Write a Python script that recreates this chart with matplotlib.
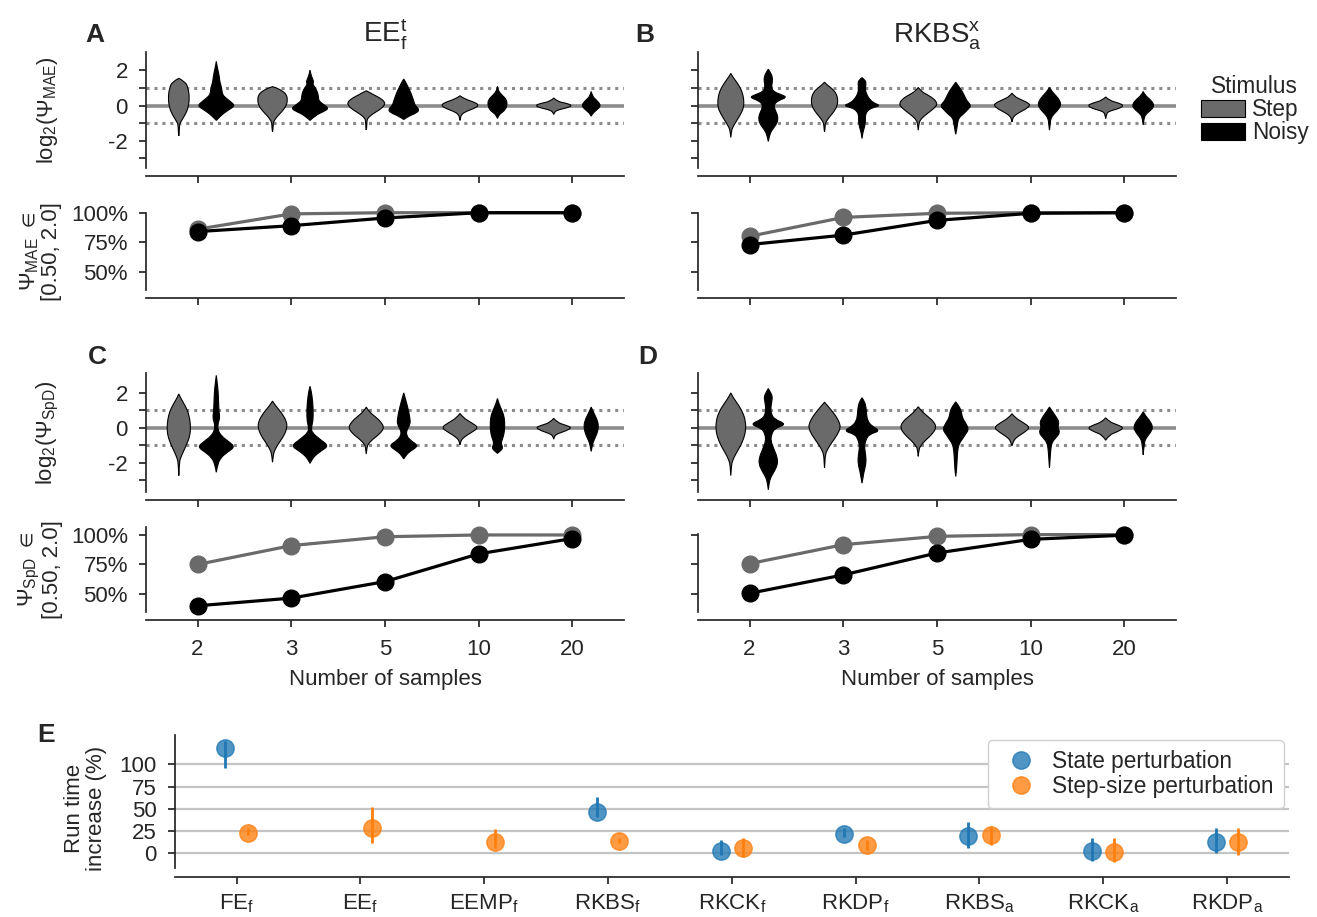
import numpy as np
import matplotlib
matplotlib.use("Agg")
import matplotlib.pyplot as plt
from matplotlib.patches import Patch, PathPatch
from matplotlib.path import Path
from matplotlib.lines import Line2D

plt.rcParams.update({
    "font.family": ["Liberation Sans", "DejaVu Sans"],
    "font.size": 16,
    "mathtext.fontset": "custom",
    "mathtext.rm": "Liberation Sans",
    "mathtext.it": "Liberation Sans:italic",
    "mathtext.bf": "Liberation Sans:bold",
    "mathtext.fallback": "stixsans",
    "axes.edgecolor": "#262626",
    "axes.linewidth": 1.25,
    "text.color": "#262626",
    "axes.labelcolor": "#262626",
    "xtick.color": "#262626",
    "ytick.color": "#262626",
    "xtick.major.size": 5,
    "ytick.major.size": 5,
    "xtick.major.width": 1.25,
    "ytick.major.width": 1.25,
    "xtick.major.pad": 8,
    "ytick.major.pad": 8,
})

# ---------------- data ----------------
N_SAMPLES = ["2", "3", "5", "10", "20"]
STIMULI = ["Step", "Noisy"]

# Violin outlines: log2 values (y) and relative widths (w, 1 = full slot)
A_STEP_Y = [[1.55, 1.36, 0.99, 0.43, -0.13, -0.5, -0.88, -1.07, -1.6, -1.72],
            [1.08, 0.99, 0.8, 0.62, 0.34, 0.0, -0.32, -0.6, -0.88, -1.07, -1.4, -1.48],
            [0.84, 0.8, 0.62, 0.43, 0.2, 0.0, -0.22, -0.5, -0.73, -0.88, -1.3, -1.38],
            [0.56, 0.52, 0.34, 0.15, 0.0, -0.17, -0.32, -0.5, -0.75, -0.84],
            [0.43, 0.24, 0.13, 0.0, -0.13, -0.26, -0.4, -0.5]]
A_STEP_W = [[0, .35, .50, .57, .50, .35, .13, .035, .02, 0],
            [0, .26, .57, .74, .80, .74, .52, .26, .07, .035, .02, 0],
            [0, .09, .39, .74, 1.0, .96, .74, .30, .07, .035, .02, 0],
            [0, .04, .35, .87, 1.0, .74, .35, .07, .02, 0],
            [0, .17, .70, 1.0, .70, .17, .03, 0]]
A_NOISY_Y = [[2.52, 2.3, 2.02, 1.64, 1.36, 1.18, 0.9, 0.62, 0.43, 0.24, 0.0, -0.22, -0.41, -0.6, -0.84],
             [2.02, 1.8, 1.55, 1.36, 1.2, 1.0, 0.7, 0.45, 0.25, 0.05, -0.17, -0.35, -0.55, -0.84],
             [1.51, 1.36, 1.08, 0.8, 0.52, 0.24, 0.0, -0.22, -0.41, -0.6, -0.79],
             [1.08, 1.0, 0.8, 0.58, 0.34, 0.06, -0.22, -0.41, -0.54, -0.73],
             [0.8, 0.52, 0.34, 0.0, -0.28, -0.45, -0.6]]
A_NOISY_W = [[0, .03, .09, .16, .19, .24, .30, .33, .52, .74, 1.0, .70, .43, .22, 0],
             [0, .04, .12, .20, .14, .30, .42, .45, .48, .75, 1.0, .70, .30, 0],
             [0, .09, .22, .35, .45, .54, .61, .83, .70, .26, 0],
             [0, .02, .07, .26, .48, .52, .43, .22, .07, 0],
             [0, .07, .26, .54, .26, .07, 0]]

B_STEP_Y = [[1.83, 1.64, 1.36, 0.99, 0.62, 0.24, -0.13, -0.5, -0.88, -1.25, -1.48, -1.81],
            [1.33, 1.18, 0.9, 0.62, 0.34, 0.0, -0.32, -0.6, -0.88, -1.07, -1.4, -1.48],
            [1.03, 0.8, 0.62, 0.39, 0.15, -0.04, -0.32, -0.6, -0.84, -1.07, -1.4],
            [0.71, 0.52, 0.34, 0.15, 0.0, -0.22, -0.41, -0.6, -0.8, -0.92],
            [0.49, 0.3, 0.13, 0.0, -0.17, -0.32, -0.47, -0.73]]
B_STEP_W = [[0, .10, .30, .52, .65, .70, .68, .52, .30, .09, .03, 0],
            [0, .13, .48, .65, .71, .68, .52, .30, .10, .035, .02, 0],
            [0, .17, .48, .83, 1.0, .96, .65, .30, .09, .03, 0],
            [0, .13, .48, .87, .97, .70, .35, .10, .02, 0],
            [0, .17, .74, .97, .70, .17, .04, 0]]
B_NOISY_Y = [[2.07, 1.93, 1.64, 1.36, 1.08, 0.8, 0.62, 0.47, 0.28, 0.06, -0.22, -0.5, -0.79, -1.07, -1.36, -1.64, -2.04],
             [1.59, 1.46, 1.27, 0.99, 0.71, 0.43, 0.15, 0.0, -0.13, -0.32, -0.6, -0.88, -1.25, -1.53, -1.87],
             [1.33, 1.08, 0.8, 0.52, 0.24, 0.0, -0.22, -0.5, -0.69, -0.97, -1.25, -1.63],
             [1.03, 0.8, 0.52, 0.24, 0.0, -0.28, -0.5, -0.73, -1.07, -1.4],
             [0.8, 0.58, 0.34, 0.0, -0.28, -0.5, -0.73, -1.1]]
B_NOISY_W = [[0, .09, .22, .22, .17, .26, .70, 1.0, .52, .30, .35, .48, .52, .43, .22, .07, 0],
             [0, .16, .22, .17, .22, .35, .61, 1.0, .52, .26, .17, .19, .13, .04, 0],
             [0, .17, .35, .48, .61, .83, .65, .39, .17, .10, .07, 0],
             [0, .13, .39, .57, .61, .43, .22, .07, .035, 0],
             [0, .10, .39, .61, .39, .13, .04, 0]]

C_STEP_Y = [[1.94, 1.72, 1.34, 0.96, 0.49, 0.02, -0.45, -0.92, -1.4, -1.77, -2.06, -2.72],
            [1.53, 1.25, 0.87, 0.4, 0.02, -0.45, -0.92, -1.3, -1.58, -1.96],
            [1.19, 0.96, 0.68, 0.4, 0.02, -0.36, -0.64, -0.92, -1.11, -1.49],
            [0.83, 0.58, 0.3, 0.02, -0.26, -0.55, -0.8, -0.96],
            [0.55, 0.32, 0.15, 0.02, -0.17, -0.34, -0.5, -0.64]]
C_STEP_W = [[0, .09, .30, .48, .59, .63, .59, .43, .22, .07, .03, 0],
            [0, .17, .48, .74, .78, .61, .30, .10, .035, 0],
            [0, .13, .43, .74, .97, .70, .35, .10, .035, 0],
            [0, .17, .61, 1.0, .61, .17, .02, 0],
            [0, .17, .65, .97, .65, .17, .02, 0]]
C_NOISY_Y = [[3.0, 2.66, 2.09, 1.53, 0.96, 0.58, 0.3, -0.08, -0.45, -0.77, -1.08, -1.4, -1.68, -2.06, -2.53],
             [2.38, 2.09, 1.53, 0.96, 0.4, 0.02, -0.26, -0.64, -1.02, -1.3, -1.58, -1.87, -2.02],
             [2.0, 1.62, 1.15, 0.58, 0.21, -0.08, -0.45, -0.77, -1.02, -1.3, -1.53, -1.77],
             [1.68, 1.34, 0.96, 0.58, 0.11, -0.36, -0.64, -0.89, -1.15, -1.34, -1.45],
             [1.19, 0.87, 0.4, 0.02, -0.36, -0.74, -1.02, -1.34]]
C_NOISY_W = [[0, .04, .10, .12, .14, .19, .10, .07, .26, .65, 1.0, .57, .26, .07, 0],
             [0, .07, .14, .17, .16, .07, .10, .52, 1.0, .61, .26, .07, 0],
             [0, .10, .22, .33, .35, .17, .13, .43, .78, .39, .13, 0],
             [0, .09, .26, .37, .39, .35, .26, .19, .30, .13, 0],
             [0, .13, .35, .39, .30, .13, .05, 0]]

D_STEP_Y = [[2.0, 1.72, 1.34, 0.87, 0.4, -0.08, -0.55, -1.02, -1.49, -1.87, -2.15, -2.72],
            [1.47, 1.15, 0.68, 0.3, 0.02, -0.36, -0.83, -1.21, -1.53, -2.0, -2.28],
            [1.21, 0.96, 0.68, 0.36, 0.02, -0.36, -0.74, -1.02, -1.21, -1.62],
            [0.81, 0.58, 0.3, 0.02, -0.26, -0.55, -0.77, -1.02],
            [0.58, 0.36, 0.17, 0.0, -0.21, -0.4, -0.7]]
D_STEP_W = [[0, .13, .39, .65, .78, .80, .71, .52, .26, .09, .03, 0],
            [0, .26, .61, .80, .85, .70, .39, .16, .04, .02, 0],
            [0, .17, .48, .83, .97, .74, .35, .13, .035, 0],
            [0, .17, .61, .97, .65, .22, .07, 0],
            [0, .17, .65, .97, .65, .17, 0]]
D_NOISY_Y = [[2.25, 2.06, 1.81, 1.53, 1.15, 0.77, 0.49, 0.21, -0.02, -0.36, -0.74, -1.21, -1.68, -2.06, -2.43, -2.81, -3.15, -3.53],
             [1.72, 1.53, 1.15, 0.77, 0.4, 0.11, -0.17, -0.36, -0.64, -1.02, -1.4, -1.77, -2.15, -2.53, -2.91, -3.15],
             [1.49, 1.25, 0.96, 0.58, 0.3, -0.08, -0.36, -0.64, -0.92, -1.3, -1.87, -2.43, -2.77],
             [1.19, 0.92, 0.58, 0.3, 0.02, -0.26, -0.55, -0.83, -1.21, -1.68, -2.28],
             [0.92, 0.68, 0.36, 0.02, -0.26, -0.55, -0.83, -1.53]]
D_NOISY_W = [[0, .10, .22, .19, .13, .16, .35, .97, .35, .17, .13, .30, .48, .50, .35, .13, .04, 0],
             [0, .13, .22, .24, .30, .52, .97, .39, .22, .13, .17, .22, .19, .10, .04, 0],
             [0, .17, .30, .35, .52, .70, .52, .35, .17, .10, .07, .04, 0],
             [0, .17, .39, .52, .43, .57, .35, .13, .07, .04, 0],
             [0, .13, .39, .52, .39, .17, .05, 0]]

# Fraction of samples with Psi in [0.5, 2.0]
A_STEP_FRAC = [0.86, 0.99, 1.0, 1.0, 1.0]
A_NOISY_FRAC = [0.84, 0.89, 0.955, 1.0, 1.0]
B_STEP_FRAC = [0.80, 0.96, 0.995, 1.0, 1.0]
B_NOISY_FRAC = [0.73, 0.81, 0.935, 0.995, 1.0]
C_STEP_FRAC = [0.75, 0.91, 0.985, 1.0, 1.0]
C_NOISY_FRAC = [0.40, 0.465, 0.605, 0.84, 0.97]
D_STEP_FRAC = [0.755, 0.915, 0.985, 1.0, 1.0]
D_NOISY_FRAC = [0.505, 0.66, 0.845, 0.96, 0.995]

# Panel E: run time increase (%)
METHODS = [r"FE$_\mathrm{f}$", r"EE$_\mathrm{f}$", r"EEMP$_\mathrm{f}$", r"RKBS$_\mathrm{f}$",
           r"RKCK$_\mathrm{f}$", r"RKDP$_\mathrm{f}$", r"RKBS$_\mathrm{a}$", r"RKCK$_\mathrm{a}$",
           r"RKDP$_\mathrm{a}$"]
STATE_MEAN = [118.0, np.nan, np.nan, 46.7, 3.0, 21.7, 19.4, 3.0, 13.0]
STATE_LO = [95.5, np.nan, np.nan, 41.0, -2.0, 18.0, 5.6, -8.3, 0.0]
STATE_HI = [126.5, np.nan, np.nan, 63.6, 15.0, 28.0, 35.5, 17.5, 28.0]
STEPSIZE_MEAN = [23.1, 28.0, 13.0, 14.0, 5.6, 9.3, 20.6, 1.9, 13.0]
STEPSIZE_LO = [20.5, 12.0, 5.6, 11.2, -4.0, 4.0, 9.3, -9.4, -2.0]
STEPSIZE_HI = [28.0, 52.0, 27.0, 16.8, 17.0, 15.0, 30.7, 17.0, 28.8]

# ---------------- styling ----------------
STEP_COLOR = "#6a6a6a"
NOISY_COLOR = "#000000"
REF_COLOR = "#8c8c8c"
BLUE = "#1f77b4"
ORANGE = "#ff7f0e"

W, H = 1317, 917
fig = plt.figure(figsize=(W / 100, H / 100), dpi=100)


def add_ax(x0, y0, x1, y1):
    return fig.add_axes([x0 / W, 1 - y1 / H, (x1 - x0) / W, (y1 - y0) / H])


def style(ax):
    for s in ("top", "right"):
        ax.spines[s].set_visible(False)
    ax.spines["bottom"].set_position(("outward", 6))


def smooth_side(pts):
    """Quadratic Bezier through an open polyline (ends kept)."""
    verts, codes = [], []
    m = len(pts)
    if m == 2:
        return [pts[1]], [Path.LINETO]
    for k in range(1, m - 1):
        end = pts[m - 1] if k == m - 2 else (pts[k] + pts[k + 1]) / 2
        verts += [pts[k], end]
        codes += [Path.CURVE3, Path.CURVE3]
    return verts, codes


def violin_patch(c, y, w, color):
    y = np.asarray(y, float)
    hw = np.asarray(w, float) * 0.2
    right = np.column_stack([c + hw, y])
    left = np.column_stack([c - hw, y])[::-1]
    verts, codes = [right[0]], [Path.MOVETO]
    v, cd = smooth_side(right)
    verts += v; codes += cd
    v, cd = smooth_side(left)
    verts += v; codes += cd
    verts.append(right[0]); codes.append(Path.CLOSEPOLY)
    return PathPatch(Path(np.array(verts), codes), facecolor=color, edgecolor="black",
                     linewidth=0.8, zorder=3)


def violin_panel(ax, step_y, step_w, noisy_y, noisy_w, ylim, ylabel, show_ylabels):
    style(ax)
    ax.axhline(0, color=REF_COLOR, lw=2.6, zorder=1)
    for v in (-1, 1):
        ax.axhline(v, color=REF_COLOR, lw=2.2, ls=(0, (1, 1.6)), zorder=1)
    for ys, ws, off, col in ((step_y, step_w, -0.2, STEP_COLOR), (noisy_y, noisy_w, 0.2, NOISY_COLOR)):
        for i, (y, w) in enumerate(zip(ys, ws)):
            ax.add_patch(violin_patch(i + off, y, w, col))
    ax.set_xlim(-0.55, 4.55)
    ax.set_ylim(*ylim)
    ax.set_xticks(range(len(N_SAMPLES)))
    ax.set_xticklabels([])
    ax.set_yticks([-3, -2, -1, 0, 1, 2])
    if show_ylabels:
        ax.set_yticklabels(["", "-2", "", "0", "", "2"])
        ax.set_ylabel(ylabel, va="center", ha="center")
        ax.yaxis.set_label_coords(-0.206, 0.5)
    else:
        ax.set_yticklabels([])


def line_panel(ax, step, noisy, ylim, ylabel, show_ylabels, show_xlabels):
    style(ax)
    x = np.arange(len(N_SAMPLES))
    ax.plot(x, step, "-o", color=STEP_COLOR, lw=2.3, ms=12, clip_on=False, zorder=3)
    ax.plot(x, noisy, "-o", color=NOISY_COLOR, lw=2.3, ms=12, clip_on=False, zorder=4)
    ax.set_xlim(-0.55, 4.55)
    ax.set_ylim(*ylim)
    ax.set_yticks([0.5, 0.75, 1.0])
    ax.set_xticks(x)
    if show_xlabels:
        ax.set_xticklabels(N_SAMPLES)
        ax.tick_params(axis="x", pad=9)
        ax.set_xlabel("Number of samples", labelpad=6)
    else:
        ax.set_xticklabels([])
    if show_ylabels:
        ax.set_yticklabels(["50%", "75%", "100%"])
        ax.set_ylabel(ylabel, va="center", ha="center", linespacing=1.0)
        ax.yaxis.set_label_coords(-0.222, 0.5)
    else:
        ax.set_yticklabels([])


vA = add_ax(146, 52, 624, 168)
lA = add_ax(146, 212.7, 624, 290)
vB = add_ax(698, 52, 1176, 168)
lB = add_ax(698, 212.7, 1176, 290)
vC = add_ax(146, 373.3, 624, 491.7)
lC = add_ax(146, 526.7, 624, 611.7)
vD = add_ax(698, 373.3, 1176, 491.7)
lD = add_ax(698, 534, 1176, 611.7)

lab_mae = "log$_2$(Ψ$_\\mathrm{MAE}$)"
lab_spd = "log$_2$(Ψ$_\\mathrm{SpD}$)"
frac_mae = "Ψ$_\\mathrm{MAE}$ $\\in$\n[0.50, 2.0]"
frac_spd = "Ψ$_\\mathrm{SpD}$ $\\in$\n[0.50, 2.0]"

violin_panel(vA, A_STEP_Y, A_STEP_W, A_NOISY_Y, A_NOISY_W, (-3.55, 3.05), lab_mae, True)
violin_panel(vB, B_STEP_Y, B_STEP_W, B_NOISY_Y, B_NOISY_W, (-3.55, 3.05), lab_mae, False)
violin_panel(vC, C_STEP_Y, C_STEP_W, C_NOISY_Y, C_NOISY_W, (-3.64, 3.12), lab_spd, True)
violin_panel(vD, D_STEP_Y, D_STEP_W, D_NOISY_Y, D_NOISY_W, (-3.64, 3.12), lab_spd, False)

line_panel(lA, A_STEP_FRAC, A_NOISY_FRAC, (0.345, 1.0), frac_mae, True, False)
line_panel(lB, B_STEP_FRAC, B_NOISY_FRAC, (0.345, 1.0), frac_mae, False, False)
line_panel(lC, C_STEP_FRAC, C_NOISY_FRAC, (0.35, 1.07), frac_spd, True, True)
line_panel(lD, D_STEP_FRAC, D_NOISY_FRAC, (0.35, 1.005), frac_spd, False, True)

vA.set_title(r"EE$_\mathrm{f}^\mathrm{t}$", fontsize=20, pad=7)
vB.set_title(r"RKBS$_\mathrm{a}^\mathrm{x}$", fontsize=20, pad=7)

# Stimulus legend
fig.legend(handles=[Patch(facecolor=STEP_COLOR, edgecolor="black", linewidth=0.8),
                    Patch(facecolor=NOISY_COLOR, edgecolor="black", linewidth=0.8)],
           labels=STIMULI, title="Stimulus", loc="upper left",
           bbox_to_anchor=(1201 / W, 1 - 75 / H), frameon=False,
           handlelength=1.94, handleheight=0.77, handletextpad=0.3,
           labelspacing=0.0, borderpad=0, borderaxespad=0, fontsize=16.3,
           title_fontsize=16.3)

# Panel E
axE = add_ax(174.7, 735, 1288.9, 868.3)
style(axE)
axE.set_xlim(-0.5, 8.5)
axE.set_ylim(-17, 133)
axE.set_yticks([0, 25, 50, 75, 100])
axE.set_xticks(range(len(METHODS)))
axE.set_xticklabels(METHODS)
axE.tick_params(axis="x", pad=6)
axE.yaxis.grid(True, color="#c4c4c4", lw=1.6)
axE.set_axisbelow(True)
for means, los, his, col, off in ((STATE_MEAN, STATE_LO, STATE_HI, BLUE, -0.09),
                                  (STEPSIZE_MEAN, STEPSIZE_LO, STEPSIZE_HI, ORANGE, 0.09)):
    for i, (m, lo, hi) in enumerate(zip(means, los, his)):
        if np.isnan(m):
            continue
        axE.plot(i + off, m, "o", ms=12.5, color=col, alpha=0.78, mec=col, zorder=3)
        axE.vlines(i + off, lo, hi, color=col, lw=2.0, zorder=4)
axE.set_ylabel("Run time\nincrease (%)", va="center", ha="center", linespacing=1.1)
axE.yaxis.set_label_coords(-0.08, 0.452)
axE.legend(handles=[Line2D([], [], ls="none", marker="o", ms=12.5, color=BLUE, alpha=0.78),
                    Line2D([], [], ls="none", marker="o", ms=12.5, color=ORANGE, alpha=0.78)],
           labels=["State perturbation", "Step-size perturbation"], loc="upper right",
           borderaxespad=0.22, borderpad=0.45, labelspacing=0.08, handletextpad=0.4,
           handlelength=2.0, framealpha=1, edgecolor="#d0d0d0", fontsize=16.3)

# Panel letters
for lab, (px, py) in {"A": (95, 35), "B": (645, 35), "C": (97, 357),
                      "D": (648, 357), "E": (46, 735)}.items():
    fig.text(px / W, 1 - py / H, lab, fontsize=19, fontweight="bold",
             ha="center", va="center")

fig.savefig("out.png", dpi=100)
